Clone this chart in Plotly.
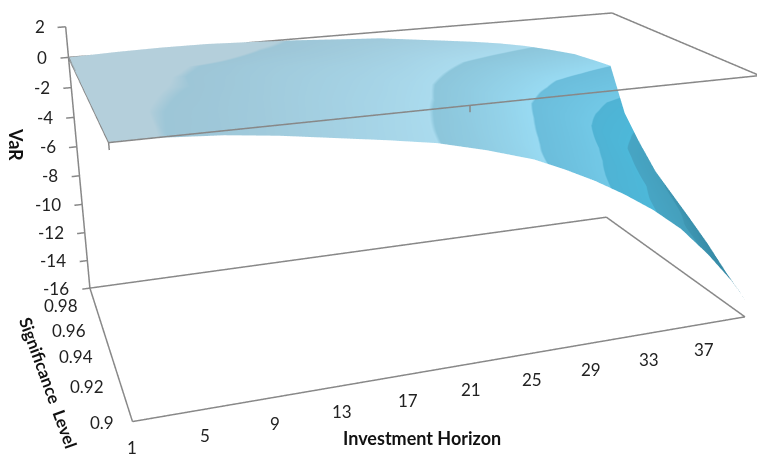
import numpy as np
import plotly.graph_objects as go

# VaR surface: one row per significance level, one column per investment horizon
horizon = [1, 4, 7, 10, 13, 16, 19, 22, 25, 27, 29, 31, 33, 35, 37, 39, 40]
significance = [0.90, 0.91, 0.92, 0.93, 0.94, 0.95, 0.96, 0.97, 0.98]
var_s90 = [0.05, -0.05, -0.25, -0.60, -1.05, -1.50, -2.00, -2.75, -3.65, -4.50, -5.45, -6.55, -7.80, -9.30, -11.25, -13.50, -14.90]
var_s91 = [0.05, -0.03, -0.21, -0.54, -0.97, -1.40, -1.88, -2.55, -3.44, -4.18, -5.05, -6.08, -7.25, -8.65, -10.48, -12.60, -13.90]
var_s92 = [0.04, -0.01, -0.18, -0.47, -0.88, -1.28, -1.75, -2.35, -3.18, -3.83, -4.62, -5.53, -6.57, -7.89, -9.62, -11.55, -12.77]
var_s93 = [0.04, 0.005, -0.12, -0.41, -0.80, -1.20, -1.61, -2.17, -2.92, -3.53, -4.25, -5.09, -6.06, -7.28, -8.87, -10.68, -11.81]
var_s94 = [0.03, 0.01, -0.05, -0.33, -0.71, -1.07, -1.45, -1.97, -2.67, -3.24, -3.90, -4.68, -5.58, -6.70, -8.17, -9.86, -10.90]
var_s95 = [0.03, 0.02, -0.03, -0.27, -0.62, -0.95, -1.30, -1.77, -2.42, -2.95, -3.55, -4.27, -5.09, -6.13, -7.47, -9.03, -9.99]
var_s96 = [0.02, 0.04, 0.01, -0.15, -0.47, -0.76, -1.06, -1.46, -2.05, -2.50, -3.02, -3.64, -4.35, -5.25, -6.40, -7.77, -8.60]
var_s97 = [0.01, 0.06, 0.08, 0.04, -0.06, -0.28, -0.60, -1.05, -1.61, -1.99, -2.41, -2.91, -3.50, -4.24, -5.16, -6.32, -7.00]
var_s98 = [0.00, 0.10, 0.15, 0.14, 0.03, -0.10, -0.28, -0.45, -0.80, -1.03, -1.27, -1.55, -1.90, -2.35, -2.85, -3.60, -4.00]
var_table = [var_s90, var_s91, var_s92, var_s93, var_s94, var_s95, var_s96, var_s97, var_s98]

horizon_ticks = [1, 5, 9, 13, 17, 21, 25, 29, 33, 37]
significance_ticks = [0.9, 0.92, 0.94, 0.96, 0.98]
var_ticks = [2, 0, -2, -4, -6, -8, -10, -12, -14, -16]

H_RANGE = [0, 41]
S_RANGE = [0.89, 0.99]
Z_RANGE = [-17, 3]

# Page placement and view of the scene
PAGE_W, PAGE_H, PAGE_TOP = 974, 1169, -418
EYE = dict(x=-0.5924, y=-1.8260, z=0.6237)
CENTER = dict(x=0.1074, y=-0.0388, z=0.0082)
UP = dict(x=-0.0021, y=0.0008, z=1)
ASPECT = dict(x=0.9076, y=0.5656, z=0.4455)

# Colour bands of the surface, low to high: (top of band, colour at bottom, colour at top)
band_tops = [-10, -8, -6, -4, -2, 0, 0.3]
band_colors = [('#2e7f9b', '#3f97b3'), ('#45a0bd', '#47a5c4'), ('#4db8d9', '#4fb3d4'), ('#72c8e6', '#6bbddb'),
               ('#98daf2', '#8cc5da'), ('#aadbee', '#9dc5d6'), ('#b4cfdb', '#b4cfdb')]
n_bands = len(band_tops)
scale = []
for i, (lo, hi) in enumerate(band_colors):
    scale += [[i / n_bands, lo], [(i + 1) / n_bands, hi]]
# Every band gets an equal share of the colour map so the edges stay sharp
band_position = np.interp(np.array(var_table), [-16] + band_tops, range(n_bands + 1))

fig = go.Figure()
fig.add_trace(go.Surface(x=horizon, y=significance, z=var_table, surfacecolor=band_position,
                         colorscale=scale, cmin=0, cmax=n_bands, showscale=False,
                         lighting=dict(ambient=1, diffuse=0, specular=0, fresnel=0, roughness=1),
                         hoverinfo='skip'))

def segments(pairs):
    xs, ys, zs = [], [], []
    for a, b in pairs:
        xs += [a[0], b[0], None]
        ys += [a[1], b[1], None]
        zs += [a[2], b[2], None]
    return xs, ys, zs

h0, h1 = horizon[0], horizon[-1]
s0, s1 = significance[0], significance[-1]

def rectangle(z):
    return [((h0, s0, z), (h1, s0, z)), ((h1, s0, z), (h1, s1, z)),
            ((h1, s1, z), (h0, s1, z)), ((h0, s1, z), (h0, s0, z))]

frame = rectangle(-16) + rectangle(0) + [((h0, s1, -16), (h0, s1, 2))]
frame += [((h0 - 0.5, s1, v), (h0, s1, v)) for v in var_ticks]
frame += [((h, s0, 0), (h, s0, -0.4)) for h in (h0, 21)]
xs, ys, zs = segments(frame)
fig.add_trace(go.Scatter3d(x=xs, y=ys, z=zs, mode='lines', line=dict(color='#888888', width=3),
                           hoverinfo='skip', showlegend=False))

tick_font = dict(family='Lato', size=17, color='#222222')
title_font = dict(family='Lato', size=18, color='#111111')
labels = []
for v in var_ticks:
    labels.append(dict(x=h0, y=s1, z=v, text=str(v), showarrow=False, xanchor='right', xshift=-19, font=tick_font))
for v, dx, dy in zip(significance_ticks, [-16, -14, -14, -11, -10], [-1, -4, -9, -14, -17]):
    labels.append(dict(x=h0, y=v, z=-16, text=f"{v:g}", showarrow=False, xanchor='right',
                       xshift=dx, yshift=dy, font=tick_font))
for v in horizon_ticks:
    labels.append(dict(x=v, y=s0, z=-16, text=str(v), showarrow=False, yshift=-26, font=tick_font))
labels.append(dict(x=h0, y=s1, z=-6, text='<b>VaR</b>', textangle=90, showarrow=False,
                   xshift=-61, yshift=2, font=title_font))
labels.append(dict(x=21, y=s0, z=-16, text='<b>Investment Horizon</b>', showarrow=False,
                   xshift=-49, yshift=-74, font=title_font))
labels.append(dict(x=h0, y=0.94, z=-16, text='<b>Significance\u00a0 Level</b>', textangle=70, showarrow=False,
                   xshift=-61, yshift=-35, font=dict(title_font, size=17)))

hidden = dict(visible=False)
fig.update_layout(width=PAGE_W, height=PAGE_H, autosize=False, margin=dict(l=0, r=0, t=0, b=0),
                  paper_bgcolor='white', showlegend=False,
                  scene=dict(domain=dict(x=[0, 1], y=[0, 1]),
                             xaxis=dict(range=H_RANGE, **hidden),
                             yaxis=dict(range=S_RANGE, **hidden),
                             zaxis=dict(range=Z_RANGE, **hidden),
                             aspectmode='manual', aspectratio=ASPECT,
                             camera=dict(eye=EYE, center=CENTER, up=UP),
                             annotations=labels))

pin = ("var g=document.getElementById('{plot_id}');g.style.position='fixed';g.style.left='0px';"
       "g.style.top='%dpx';g.style.width='%dpx';g.style.height='%dpx';" % (PAGE_TOP, PAGE_W, PAGE_H))
fig.write_html("out.html", post_script=pin)
